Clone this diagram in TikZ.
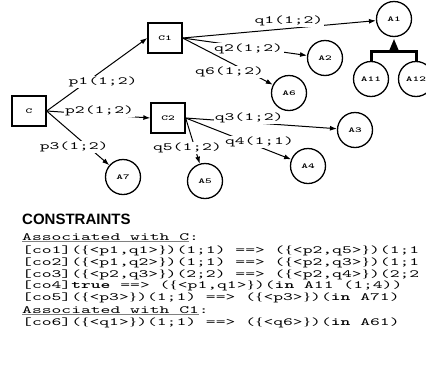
\documentclass[tikz,border=0pt]{standalone}
\usepackage{fontspec}
\setmainfont{Liberation Serif}
\newfontfamily\cmono{lmmono10-regular.otf}[BoldFont=lmmonolt10-bold.otf, FakeStretch=1.7]
\newfontfamily\cbrace[FakeStretch=1.6]{Liberation Serif}
\newfontfamily\chead{Liberation Sans}
\newcommand{\lb}{{\cbrace\{}}
\newcommand{\rb}{{\cbrace\}}}
\newcommand{\assoc}[1]{\textcolor{gray}{\underline{\textcolor{black}{#1}}}}
\usetikzlibrary{shapes, arrows, calc, arrows.meta, fit, positioning}

\begin{document}
\begin{tikzpicture}[x=1pt, y=-1pt,
  box/.style = {draw, line width=1.3pt, minimum width=34pt, minimum height=30pt, inner sep=0pt, font=\cmono\fontsize{7.5}{8}\selectfont\bfseries},
  actor/.style = {draw, circle, line width=1.3pt, minimum size=35pt, inner sep=0pt, font=\cmono\fontsize{7.5}{8}\selectfont\bfseries},
  lbl/.style = {fill=white, inner sep=1pt, font=\cmono\fontsize{11}{12}\selectfont},
  txt/.style = {anchor=base west, inner sep=0pt, font=\cmono\fontsize{11}{12}\selectfont},
  link/.style = {-{Latex[length=7pt,width=5pt]}, line width=1pt}]
\useasboundingbox (0,0) rectangle (426,381);
\clip (0,0) rectangle (426,381);

\node[box] (C) at (29,111) {C};
\node[box] (C1) at (165,38) {C1};
\node[box] (C2) at (168,118) {C2};
\node[actor] (A1) at (394,19) {A1};
\node[actor] (A2) at (325,58) {A2};
\node[actor] (A6) at (289,93) {A6};
\node[actor] (A3) at (355,130) {A3};
\node[actor] (A4) at (308,166) {A4};
\node[actor] (A5) at (205,181) {A5};
\node[actor] (A7) at (123,177) {A7};
\node[actor] (A11) at (371,79) {A11};
\node[actor] (A12) at (416,79) {A12};

\draw[link] (C.east) -- node[lbl, pos=0.56, shift={(0,12)}] (lp1) {p1(1;2)} (C1.west);
\draw[link] (C.east) -- node[lbl, pos=0.51, shift={(0,-3.6)}] (lp2) {p2(1;2)} (C2.west);
\draw[link] (C.east) -- node[lbl, pos=0.44, shift={(0,12)}] (lp3) {p3(1;2)} (A7);
\draw[link] (C1.east) -- node[lbl, pos=0.55, shift={(0,-7.4)}] (lq1) {q1(1;2)} (A1);
\draw[link] (C1.east) -- node[lbl, pos=0.53, shift={(0,1.8)}] (lq2) {q2(1;2)} (A2);
\draw[link] (C1.east) -- node[lbl, pos=0.52, shift={(0,9.8)}] (lq6) {q6(1;2)} (A6);
\draw[link] (C2.east) -- node[lbl, pos=0.42, shift={(0,-4.5)}] (lq3) {q3(1;2)} (A3);
\draw[link] (C2.east) -- node[lbl, pos=0.70, shift={(0,-5)}] (lq4) {q4(1;1)} (A4);
\draw[link] (C2.east) -- node[lbl, pos=0.65, shift={(-7.3,0)}] (lq5) {q5(1;2)} (A5);

% aggregation of A1
\fill (A1.south) ++(0,2) -- ++(-5.5,13) -- ++(11,0) -- cycle;
\draw[line width=3pt] (A11.north) -- ++(0,-9.5) -| (A12.north);

% constraints
\node[anchor=base west, inner sep=0pt, font=\chead\fontsize{15}{15}\selectfont\bfseries] (head) at (22,224.5) {CONSTRAINTS};
\node[txt] (t1) at (22,240) {\assoc{Associated with C}:};
\node[txt] (t2) at (22,253.5) {[co1](\lb<p1,q1>\rb)(1;1) ==> (\lb<p2,q5>\rb)(1;1};
\node[txt] (t3) at (22,265.5) {[co2](\lb<p1,q2>\rb)(1;1) ==> (\lb<p2,q3>\rb)(1;1};
\node[txt] (t4) at (22,277) {[co3](\lb<p2,q3>\rb)(2;2) ==> (\lb<p2,q4>\rb)(2;2};
\node[txt] (t5) at (22,288.5) {[co4]\textbf{true} ==> (\lb<p1,q1>\rb)(\textbf{in} A11 (1;4))};
\node[txt] (t6) at (22,300) {[co5](\lb<p3>\rb)(1;1) ==> (\lb<p3>\rb)(\textbf{in} A71)};
\node[txt] (t7) at (22,313) {\assoc{Associated with C1}:};
\node[txt] (t8) at (22,325.5) {[co6](\lb<q1>\rb)(1;1) ==> (\lb<q6>\rb)(\textbf{in} A61)};
\end{tikzpicture}
\end{document}
